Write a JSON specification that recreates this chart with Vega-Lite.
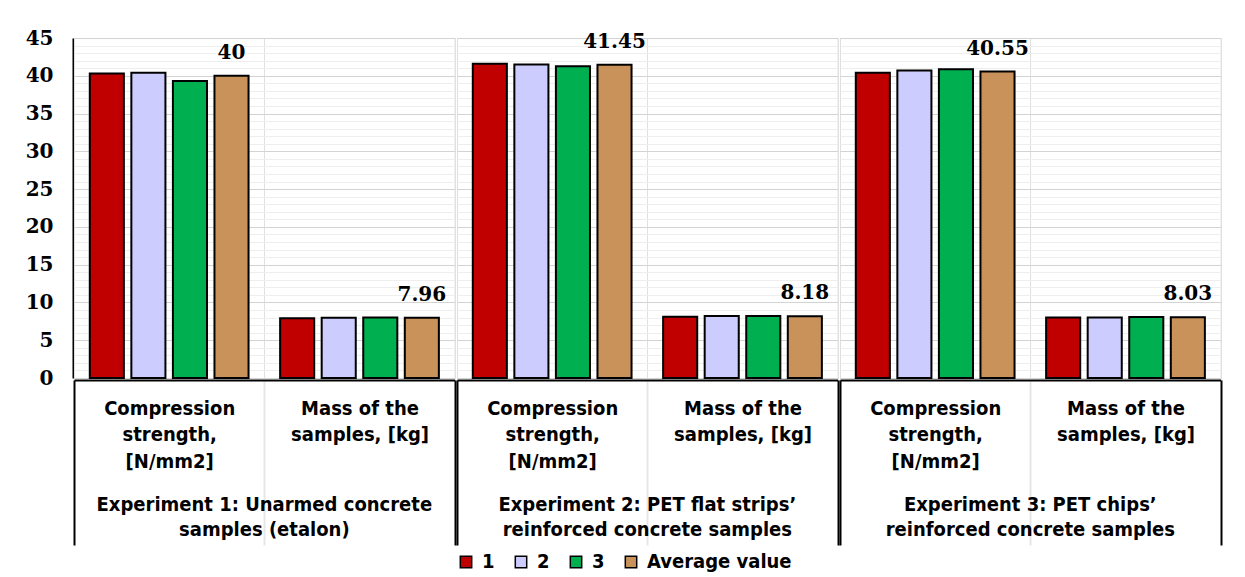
{
  "$schema": "https://vega.github.io/schema/vega-lite/v6.json",
  "background": "white",
  "padding": {"left": 25, "top": 28, "right": 27, "bottom": 4},
  "data": {"values": [
    {"experiment": "Experiment 1: Unarmed concrete|samples (etalon)", "measure": "Compression|strength,|[N/mm2]", "series": "1", "value": 40.3},
    {"experiment": "Experiment 1: Unarmed concrete|samples (etalon)", "measure": "Compression|strength,|[N/mm2]", "series": "2", "value": 40.4},
    {"experiment": "Experiment 1: Unarmed concrete|samples (etalon)", "measure": "Compression|strength,|[N/mm2]", "series": "3", "value": 39.3},
    {"experiment": "Experiment 1: Unarmed concrete|samples (etalon)", "measure": "Compression|strength,|[N/mm2]", "series": "Average value", "value": 40},
    {"experiment": "Experiment 1: Unarmed concrete|samples (etalon)", "measure": "Mass of the|samples, [kg]", "series": "1", "value": 7.9},
    {"experiment": "Experiment 1: Unarmed concrete|samples (etalon)", "measure": "Mass of the|samples, [kg]", "series": "2", "value": 7.97},
    {"experiment": "Experiment 1: Unarmed concrete|samples (etalon)", "measure": "Mass of the|samples, [kg]", "series": "3", "value": 8.01},
    {"experiment": "Experiment 1: Unarmed concrete|samples (etalon)", "measure": "Mass of the|samples, [kg]", "series": "Average value", "value": 7.96},
    {"experiment": "Experiment 2: PET flat strips’|reinforced concrete samples", "measure": "Compression|strength,|[N/mm2]", "series": "1", "value": 41.6},
    {"experiment": "Experiment 2: PET flat strips’|reinforced concrete samples", "measure": "Compression|strength,|[N/mm2]", "series": "2", "value": 41.5},
    {"experiment": "Experiment 2: PET flat strips’|reinforced concrete samples", "measure": "Compression|strength,|[N/mm2]", "series": "3", "value": 41.25},
    {"experiment": "Experiment 2: PET flat strips’|reinforced concrete samples", "measure": "Compression|strength,|[N/mm2]", "series": "Average value", "value": 41.45},
    {"experiment": "Experiment 2: PET flat strips’|reinforced concrete samples", "measure": "Mass of the|samples, [kg]", "series": "1", "value": 8.12},
    {"experiment": "Experiment 2: PET flat strips’|reinforced concrete samples", "measure": "Mass of the|samples, [kg]", "series": "2", "value": 8.2},
    {"experiment": "Experiment 2: PET flat strips’|reinforced concrete samples", "measure": "Mass of the|samples, [kg]", "series": "3", "value": 8.22},
    {"experiment": "Experiment 2: PET flat strips’|reinforced concrete samples", "measure": "Mass of the|samples, [kg]", "series": "Average value", "value": 8.18},
    {"experiment": "Experiment 3: PET chips’|reinforced concrete samples", "measure": "Compression|strength,|[N/mm2]", "series": "1", "value": 40.4},
    {"experiment": "Experiment 3: PET chips’|reinforced concrete samples", "measure": "Compression|strength,|[N/mm2]", "series": "2", "value": 40.7},
    {"experiment": "Experiment 3: PET chips’|reinforced concrete samples", "measure": "Compression|strength,|[N/mm2]", "series": "3", "value": 40.85},
    {"experiment": "Experiment 3: PET chips’|reinforced concrete samples", "measure": "Compression|strength,|[N/mm2]", "series": "Average value", "value": 40.55},
    {"experiment": "Experiment 3: PET chips’|reinforced concrete samples", "measure": "Mass of the|samples, [kg]", "series": "1", "value": 8.0},
    {"experiment": "Experiment 3: PET chips’|reinforced concrete samples", "measure": "Mass of the|samples, [kg]", "series": "2", "value": 8.02},
    {"experiment": "Experiment 3: PET chips’|reinforced concrete samples", "measure": "Mass of the|samples, [kg]", "series": "3", "value": 8.06},
    {"experiment": "Experiment 3: PET chips’|reinforced concrete samples", "measure": "Mass of the|samples, [kg]", "series": "Average value", "value": 8.03}
  ]},
  "facet": {
    "column": {
      "field": "experiment", "type": "nominal",
      "sort": ["Experiment 1: Unarmed concrete|samples (etalon)", "Experiment 2: PET flat strips’|reinforced concrete samples", "Experiment 3: PET chips’|reinforced concrete samples"],
      "header": {
        "title": null, "labelOrient": "bottom", "labelExpr": "split(datum.value, '|')",
        "labelFont": "DejaVu Sans Condensed", "labelFontSize": 20, "labelFontWeight": "bold", "labelColor": "black",
        "labelLineHeight": 25, "labelBaseline": "top", "labelPadding": -51
      }
    }
  },
  "spacing": 0,
  "spec": {
    "width": 380.67,
    "height": 340,
    "encoding": {
      "x": {
        "field": "measure", "type": "nominal",
        "sort": ["Compression|strength,|[N/mm2]", "Mass of the|samples, [kg]"],
        "scale": {"paddingInner": 0, "paddingOuter": 0},
        "axis": {
          "title": null, "labelExpr": "split(datum.label, '|')", "labelAngle": 0,
          "labelFont": "DejaVu Sans Condensed", "labelFontSize": 20, "labelFontWeight": "bold", "labelColor": "black",
          "labelLineHeight": 26.5, "labelBaseline": "top", "labelPadding": -147,
          "tickBand": "extent", "tickSize": 165, "tickWidth": 2,
          "tickColor": {"condition": {"test": "datum.extra || datum.value == 'Mass of the|samples, [kg]'", "value": "black"}, "value": "#e6e6e6"},
          "domainColor": "black", "domainWidth": 2,
          "grid": true, "gridColor": "#e0e0e0"
        }
      },
      "xOffset": {
        "field": "series", "type": "nominal", "sort": ["1", "2", "3", "Average value"],
        "scale": {"paddingInner": 0.18, "paddingOuter": 0.38}
      },
      "y": {
        "field": "value", "type": "quantitative",
        "scale": {"domain": [0, 45], "nice": false},
        "axis": {
          "title": null,
          "values": [0,1,2,3,4,5,6,7,8,9,10,11,12,13,14,15,16,17,18,19,20,21,22,23,24,25,26,27,28,29,30,31,32,33,34,35,36,37,38,39,40,41,42,43,44,45],
          "labelExpr": "datum.value % 5 == 0 ? datum.label : ''", "labelOverlap": false,
          "labelFont": "DejaVu Serif", "labelFontSize": 20, "labelFontWeight": "bold", "labelColor": "black",
          "labelPadding": 20, "ticks": false,
          "domainColor": "black", "domainWidth": 2,
          "gridColor": {"condition": {"test": "datum.value % 5 == 0", "value": "#d3d3d3"}, "value": "#eeeeee"},
          "gridWidth": 1
        }
      }
    },
    "layer": [
      {
        "mark": {"type": "bar", "stroke": "black", "strokeWidth": 2},
        "encoding": {
          "color": {
            "field": "series", "type": "nominal", "sort": ["1", "2", "3", "Average value"],
            "scale": {"domain": ["1", "2", "3", "Average value"], "range": ["#c00000", "#ccccff", "#00b050", "#c8925a"]},
            "legend": {
              "title": null, "orient": "bottom", "direction": "horizontal",
              "symbolType": "square", "symbolSize": 130, "symbolStrokeColor": "black", "symbolStrokeWidth": 1.5,
              "labelFont": "DejaVu Sans Condensed", "labelFontSize": 20, "labelFontWeight": "bold", "labelColor": "black",
              "labelOffset": 6, "columnPadding": 16, "offset": 6
            }
          }
        }
      },
      {
        "transform": [{"filter": "datum.series == 'Average value'"}],
        "mark": {"type": "text", "baseline": "bottom", "align": "center", "dy": -13, "font": "DejaVu Serif", "fontSize": 20, "fontWeight": "bold", "color": "black"},
        "encoding": {"text": {"field": "value", "type": "quantitative"}}
      }
    ]
  },
  "config": {
    "view": {"stroke": "#d9d9d9"},
    "legend": {"layout": {"bottom": {"anchor": "middle"}}}
  }
}
